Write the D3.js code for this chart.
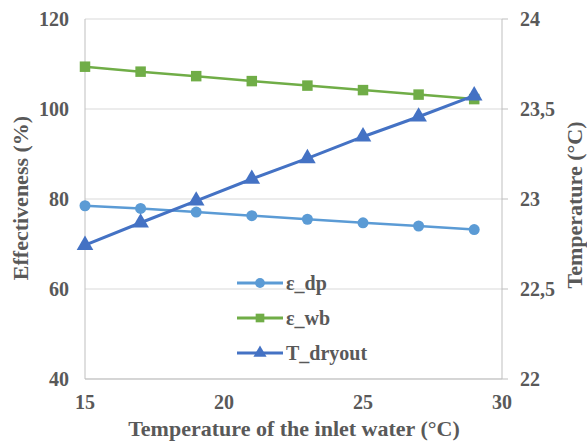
<!DOCTYPE html>
<html><head><meta charset="utf-8">
<script src="https://cdn.jsdelivr.net/npm/d3@7"></script>
<style>body{margin:0;background:#fff}svg{display:block}text{font-family:"Liberation Serif","Times New Roman",serif;font-weight:bold}</style>
</head><body>
<script>
const xValues = [15,17,19,21,23,25,27,29];
const epsDp = [78.5,77.9,77.1,76.3,75.5,74.7,74.0,73.2];
const epsWb = [109.4,108.3,107.3,106.2,105.2,104.2,103.2,102.2];
const tDryout = [22.744,22.868,22.99,23.111,23.226,23.346,23.457,23.574];
const xTicks = [15,20,25,30];
const leftTicks = [40,60,80,100,120];
const rightTicks = [22,22.5,23,23.5,24];
const rightTickLabels = ["22","22,5","23","23,5","24"];
const seriesNames = ["ε_dp","ε_wb","T_dryout"];
const colors = ["#5B9BD5","#70AD47","#4472C4"];

const W=587,H=446;
const svg=d3.select("body").append("svg").attr("width",W).attr("height",H);
const textCol="#595959";
const x=d3.scaleLinear().domain([15,30]).range([85,502]);
const yL=d3.scaleLinear().domain([40,120]).range([379,19]);
const yR=d3.scaleLinear().domain([22,24]).range([379,19]);

// gridlines
svg.append("g").selectAll("line").data(leftTicks).join("line")
  .attr("x1",85).attr("x2",502).attr("y1",d=>yL(d)).attr("y2",d=>yL(d))
  .attr("stroke","#d9d9d9").attr("stroke-width",1);
// axis lines
svg.append("line").attr("x1",85).attr("x2",85).attr("y1",19).attr("y2",379).attr("stroke","#bfbfbf");
svg.append("line").attr("x1",502).attr("x2",502).attr("y1",19).attr("y2",379).attr("stroke","#bfbfbf");
svg.append("line").attr("x1",85).attr("x2",502).attr("y1",379).attr("y2",379).attr("stroke","#bfbfbf");
// right ticks
svg.append("g").selectAll("line").data(rightTicks).join("line")
  .attr("x1",502).attr("x2",508).attr("y1",d=>yR(d)).attr("y2",d=>yR(d)).attr("stroke","#bfbfbf");

const tickStyle=s=>s.attr("font-size",20).attr("fill",textCol);
// left tick labels
svg.append("g").selectAll("text").data(leftTicks).join("text")
  .attr("x",69).attr("y",d=>yL(d)).attr("dy","0.35em").attr("text-anchor","end").text(d=>d).call(tickStyle);
// right tick labels
svg.append("g").selectAll("text").data(rightTicks).join("text")
  .attr("x",520).attr("y",d=>yR(d)).attr("dy","0.35em").attr("text-anchor","start").text((d,i)=>rightTickLabels[i]).call(tickStyle);
// x tick labels
svg.append("g").selectAll("text").data(xTicks).join("text")
  .attr("x",d=>x(d)).attr("y",402).attr("dy","0.35em").attr("text-anchor","middle").text(d=>d).call(tickStyle);

// axis titles
const titleStyle=s=>s.attr("font-size",22).attr("fill",textCol).attr("text-anchor","middle");
svg.append("text").attr("x",294).attr("y",436).text("Temperature of the inlet water (°C)").call(titleStyle);
svg.append("text").attr("transform","translate(28,198) rotate(-90)").text("Effectiveness (%)").call(titleStyle);
svg.append("text").attr("transform","translate(582,205) rotate(-90)").text("Temperature (°C)").call(titleStyle);

// series
const series=[
  {vals:epsDp,y:yL,shape:d3.symbolCircle,size:95},
  {vals:epsWb,y:yL,shape:d3.symbolSquare,size:110},
  {vals:tDryout,y:yR,shape:d3.symbolTriangle,size:120}
];
series.forEach((s,i)=>{
  const pts=xValues.map((xv,j)=>[x(xv),s.y(s.vals[j])]);
  svg.append("path").attr("d",d3.line()(pts)).attr("fill","none").attr("stroke",colors[i]).attr("stroke-width",i===2?3:2.5);
  svg.append("g").selectAll("path").data(pts).join("path")
    .attr("transform",d=>`translate(${d[0]},${d[1]})`)
    .attr("d",d3.symbol().type(s.shape).size(s.size)).attr("fill",colors[i]);
});

// legend
const legY=[283,318,353];
series.forEach((s,i)=>{
  svg.append("line").attr("x1",237).attr("x2",283).attr("y1",legY[i]).attr("y2",legY[i]).attr("stroke",colors[i]).attr("stroke-width",3);
  svg.append("path").attr("transform",`translate(260,${legY[i]})`).attr("d",d3.symbol().type(s.shape).size(75)).attr("fill",colors[i]);
  svg.append("text").attr("x",286).attr("y",legY[i]).attr("dy","0.35em").text(seriesNames[i])
    .attr("font-size",20).attr("fill",textCol);
});
</script>
</body></html>
